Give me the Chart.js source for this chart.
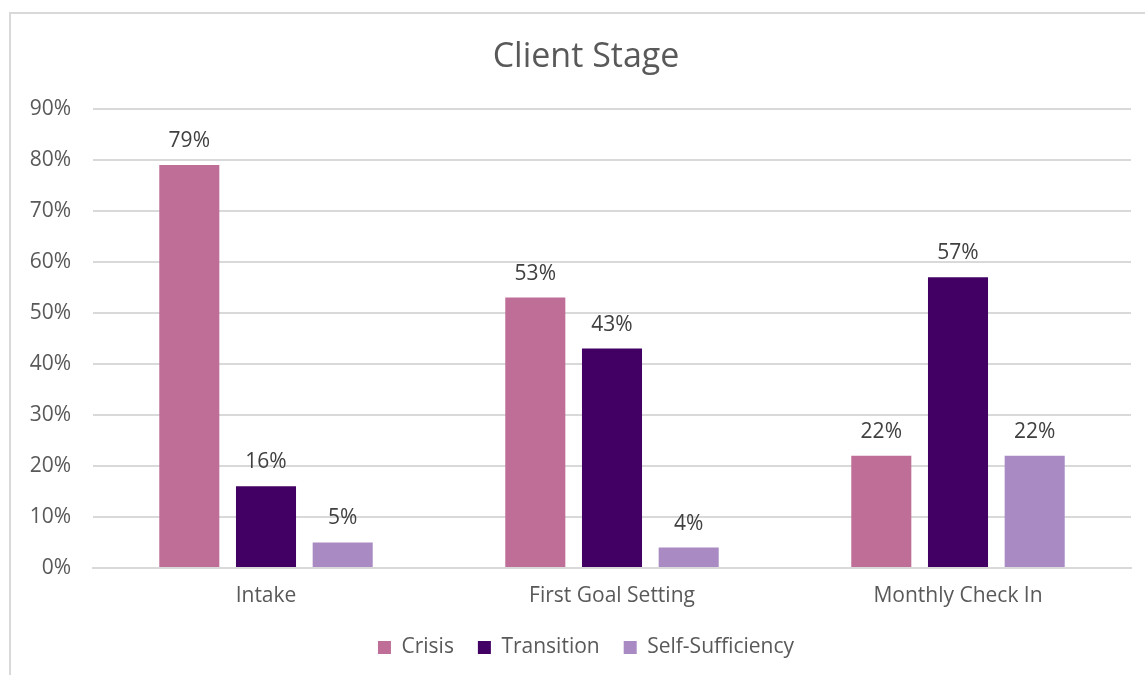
<!DOCTYPE html>
<html>
<head>
<meta charset="utf-8">
<script src="https://cdn.jsdelivr.net/npm/chart.js@4"></script>
<style>
  html, body { margin: 0; padding: 0; background: #fff; overflow: hidden; }
  #wrap { position: relative; width: 1145px; height: 675px; overflow: hidden; }
  #frame {
    position: absolute; left: 9px; top: 12px; width: 1200px; height: 700px;
    border: 2px solid #d9d9d9; box-sizing: border-box;
  }
  canvas { position: absolute; left: 0; top: 0; }
</style>
</head>
<body>
<div id="wrap">
  <div id="frame"></div>
  <canvas id="chart" width="1172" height="675"></canvas>
</div>
<script>
  // ==== data ====
  const stages      = ["Intake", "First Goal Setting", "Monthly Check In"];
  const crisis      = [79, 53, 22];
  const transition  = [16, 43, 57];
  const selfSuff    = [5, 4, 22];
  const yTicks      = [0, 10, 20, 30, 40, 50, 60, 70, 80, 90];

  const FONT = "'Open Sans', Arial, sans-serif";
  const textGray = "#595959";

  // value labels above each bar
  const barLabels = {
    id: "barLabels",
    afterDatasetsDraw(chart) {
      const { ctx } = chart;
      ctx.save();
      ctx.font = `21px ${FONT}`;
      ctx.fillStyle = "#404040";
      ctx.textAlign = "center";
      ctx.textBaseline = "middle";
      chart.data.datasets.forEach((ds, i) => {
        chart.getDatasetMeta(i).data.forEach((bar, j) => {
          ctx.fillText(ds.data[j] + "%", bar.x, bar.y - 24);
        });
      });
      ctx.restore();
    }
  };

  new Chart(document.getElementById("chart"), {
    type: "bar",
    data: {
      labels: stages,
      datasets: [
        { label: "Crisis", data: crisis, backgroundColor: "#bf6e97" },
        { label: "Transition", data: transition, backgroundColor: "#420064" },
        { label: "Self-Sufficiency", data: selfSuff, backgroundColor: "#a98ac2" }
      ]
    },
    options: {
      responsive: false,
      animation: false,
      layout: { padding: { left: 0, right: 0, top: 0, bottom: 7 } },
      datasets: { bar: { categoryPercentage: 0.665, barPercentage: 0.783 } },
      scales: {
        x: {
          grid: { display: false, drawTicks: false },
          border: { color: "#d9d9d9", width: 2 },
          ticks: { color: textGray, font: { family: FONT, size: 21 }, padding: 15 },
          afterFit: s => { s.height = 45; }
        },
        y: {
          min: 0, max: 90,
          grid: { color: "#d9d9d9", lineWidth: 2, drawTicks: false },
          border: { display: false },
          afterBuildTicks: s => { s.ticks = yTicks.map(v => ({ value: v })); },
          ticks: {
            color: textGray, font: { family: FONT, size: 21 }, padding: 22,
            callback: v => v + "%"
          },
          afterFit: s => { s.width = 93; }
        },
        // empty strip on the right so the plot ends short of the frame
        yRight: {
          position: "right",
          min: 0, max: 90,
          grid: { display: false, drawTicks: false },
          border: { display: false },
          ticks: { display: false },
          afterFit: s => { s.width = 41; }
        }
      },
      plugins: {
        title: {
          display: true, text: "Client Stage", color: textGray,
          font: { family: FONT, size: 34, weight: "normal", lineHeight: 1.2 },
          padding: { top: 37, bottom: 31 }
        },
        legend: {
          position: "bottom",
          labels: {
            color: textGray, font: { family: FONT, size: 21 },
            boxWidth: 13, boxHeight: 13, padding: 24
          }
        },
        tooltip: { enabled: false }
      }
    },
    plugins: [barLabels]
  });
</script>
</body>
</html>
